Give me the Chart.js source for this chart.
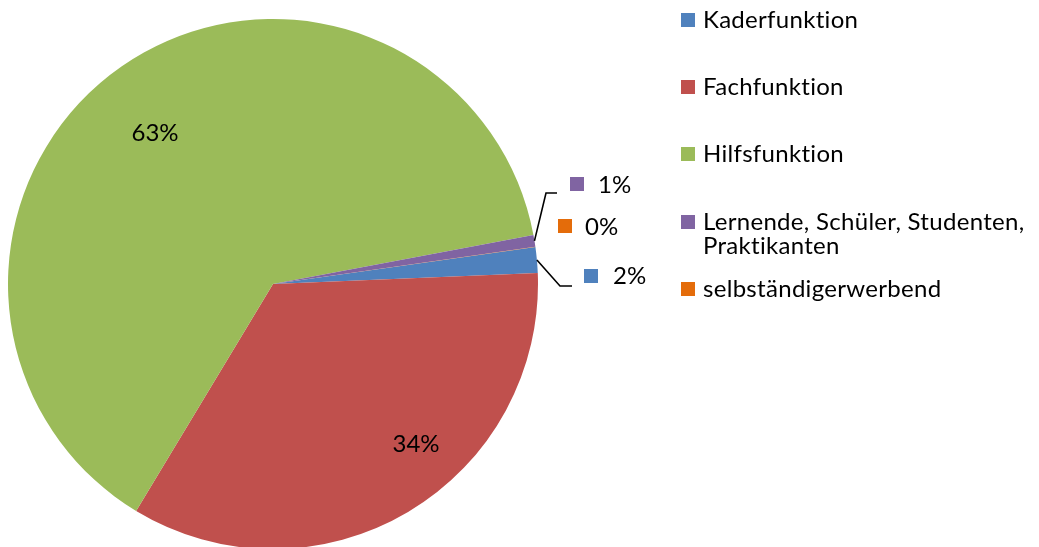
<!DOCTYPE html>
<html><head><meta charset="utf-8">
<script src="https://cdn.jsdelivr.net/npm/chart.js@4/dist/chart.umd.min.js"></script>
<style>html,body{margin:0;padding:0;overflow:hidden;background:#fff;width:1039px;height:547px}
#c{position:absolute;left:0;top:0}</style>
</head><body><canvas id="c" width="1039" height="560"></canvas>
<script>
const categories = ['Kaderfunktion','Fachfunktion','Hilfsfunktion','Lernende, Schüler, Studenten, Praktikanten','selbständigerwerbend'];
const legendLines = [['Kaderfunktion'],['Fachfunktion'],['Hilfsfunktion'],['Lernende, Schüler, Studenten,','Praktikanten'],['selbständigerwerbend']];
const shares = [1.56, 34.3, 63.4, 0.72, 0.02];
const colors = ['#4F81BD','#C0504D','#9BBB59','#8064A2','#E46C0A'];

const total = shares.reduce((a,b)=>a+b,0);
const pctLabels = shares.map(v => Math.round(v/total*100) + '%');

const FONT = '24px Lato';
// label layout (style/position config)
const inside = {1:{x:416,y:452}, 2:{x:155,y:141}};
const outside = {
  3:{elbow:[546,193], end:[557,193], sq:[570,177], tx:598, ty:193},
  4:{elbow:null, end:null, sq:[558,219], tx:585, ty:235},
  0:{elbow:[560,286], end:[572,286], sq:[584,269], tx:613, ty:284}
};
const legendPos = {sqX:681, txX:703, baselines:[28,95,162,230,297], lineH:24, sq:14};

const labelPlugin = {
  id:'labels',
  afterDraw(chart){
    const ctx = chart.ctx;
    const meta = chart.getDatasetMeta(0);
    ctx.save();
    ctx.font = FONT;
    try { ctx.textRendering = 'optimizeSpeed'; } catch(e) {}
    ctx.fillStyle = '#000';
    ctx.textBaseline = 'alphabetic';
    ctx.textAlign = 'center';
    Object.keys(inside).forEach(k=>{
      const p = inside[k];
      ctx.fillText(pctLabels[k], p.x, p.y);
    });
    ctx.textAlign = 'left';
    Object.keys(outside).forEach(k=>{
      const o = outside[k];
      const arc = meta.data[k];
      if(o.elbow){
        const mid = (arc.startAngle + arc.endAngle)/2;
        const sx = arc.x + Math.cos(mid)*arc.outerRadius;
        const sy = arc.y + Math.sin(mid)*arc.outerRadius;
        ctx.beginPath();
        ctx.strokeStyle = '#000';
        ctx.lineWidth = 1.6;
        ctx.moveTo(sx, sy);
        ctx.lineTo(o.elbow[0], o.elbow[1]);
        ctx.lineTo(o.end[0], o.end[1]);
        ctx.stroke();
      }
      ctx.fillStyle = colors[k];
      ctx.fillRect(o.sq[0], o.sq[1], 14, 14);
      ctx.fillStyle = '#000';
      ctx.fillText(pctLabels[k], o.tx, o.ty);
    });
    try { ctx.letterSpacing = '0.3px'; } catch(e) {}
    legendLines.forEach((lines,i)=>{
      const b = legendPos.baselines[i];
      ctx.fillStyle = colors[i];
      ctx.fillRect(legendPos.sqX, b-15, legendPos.sq, legendPos.sq);
      ctx.fillStyle = '#000';
      lines.forEach((t,j)=> ctx.fillText(t, legendPos.txX, b + j*legendPos.lineH));
    });
    ctx.restore();
  }
};

new Chart(document.getElementById('c'), {
  type:'pie',
  data:{labels:categories, datasets:[{data:shares, backgroundColor:colors, borderWidth:0}]},
  options:{
    responsive:false,
    animation:false,
    rotation:82,
    layout:{padding:{left:8, top:19, right:501, bottom:11}},
    plugins:{legend:{display:false}, tooltip:{enabled:false}}
  },
  plugins:[labelPlugin]
});
</script></body></html>
